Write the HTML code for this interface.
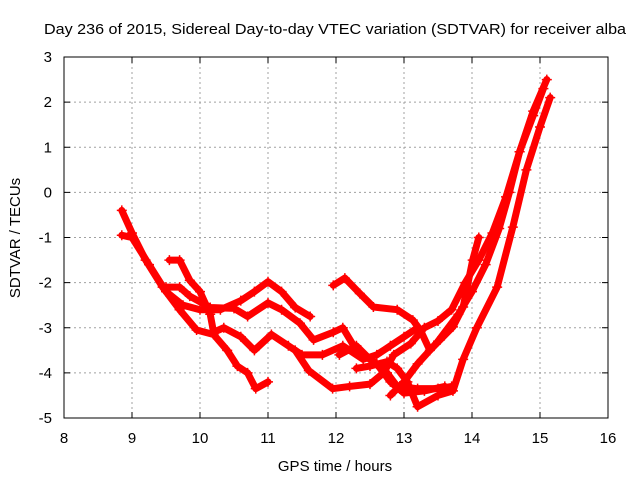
<!DOCTYPE html>
<html><head><meta charset="utf-8"><style>
body{margin:0;background:#fff}
svg{display:block;font-family:"Liberation Sans",sans-serif;font-size:15px}
</style></head><body>
<svg id="chart" width="640" height="480">
<text x="335" y="34" text-anchor="middle" textLength="582" lengthAdjust="spacingAndGlyphs">Day 236 of 2015, Sidereal Day-to-day VTEC variation (SDTVAR) for receiver alba</text>
<text x="335" y="471" text-anchor="middle">GPS time / hours</text>
<text x="0" y="0" transform="translate(20,238) rotate(-90)" text-anchor="middle">SDTVAR / TECUs</text>
<g id="grid"></g><g id="ticks"></g><g id="series"></g>
<rect x="64" y="57" width="544" height="361" fill="none" stroke="#000" stroke-width="1"/>
</svg>
<script>
const xTicks=[8,9,10,11,12,13,14,15,16];
const yTicks=[3,2,1,0,-1,-2,-3,-4,-5];
const track1=[[8.85,-0.4],[9.0,-0.9],[9.2,-1.5],[9.45,-2.1],[9.7,-2.6],[9.95,-3.05],[10.2,-3.15],[10.4,-3.5],[10.55,-3.85],[10.7,-4.0],[10.82,-4.35],[11.0,-4.2]];
const track2=[[8.85,-0.95],[9.0,-1.0],[9.25,-1.6],[9.5,-2.2],[9.75,-2.5],[10.0,-2.6],[10.3,-2.6],[10.6,-2.4],[10.8,-2.2],[11.0,-1.98],[11.2,-2.2],[11.4,-2.55],[11.62,-2.75]];
const track3=[[9.55,-1.5],[9.7,-1.5],[9.85,-1.95],[10.0,-2.2],[10.15,-2.7],[10.2,-3.1],[10.35,-3.0],[10.6,-3.2],[10.8,-3.5],[11.05,-3.15],[11.3,-3.4],[11.5,-3.6],[11.8,-3.6],[12.1,-3.4],[12.4,-3.7],[12.6,-3.6],[12.8,-3.4],[13.0,-3.2],[13.2,-3.0]];
const track4=[[9.5,-2.1],[9.7,-2.1],[9.85,-2.3],[10.15,-2.55],[10.5,-2.57],[10.7,-2.75],[11.0,-2.45],[11.2,-2.6],[11.47,-2.9],[11.67,-3.27],[11.96,-3.1],[12.1,-3.0],[12.3,-3.5],[12.6,-3.8],[12.8,-4.2],[13.0,-4.45],[13.3,-4.4],[13.6,-4.3]];
const track5=[[11.96,-2.06],[12.13,-1.9],[12.35,-2.24],[12.55,-2.54],[12.9,-2.6],[13.13,-2.83],[13.24,-3.05],[13.38,-3.5],[13.53,-3.27],[13.72,-2.98],[13.87,-2.54],[14.01,-1.5],[14.1,-1.0]];
const track6=[[11.4,-3.5],[11.6,-3.95],[11.95,-4.35],[12.2,-4.3],[12.5,-4.25],[12.7,-4.0],[12.85,-3.6],[13.1,-3.35],[13.3,-3.0],[13.5,-2.85],[13.7,-2.6],[13.9,-2.0],[14.1,-1.5],[14.3,-0.9],[14.5,-0.1],[14.7,0.9],[14.9,1.8],[15.1,2.5]];
const track7=[[12.05,-3.6],[12.3,-3.4],[12.5,-3.7],[12.75,-4.0],[12.9,-4.3],[13.2,-4.35],[13.5,-4.35],[13.7,-4.3]];
const track8=[[12.3,-3.9],[12.5,-3.85],[12.75,-3.75],[12.9,-3.9],[13.05,-4.2],[13.2,-4.75],[13.5,-4.5],[13.72,-4.4],[13.87,-3.7],[14.07,-3.0],[14.37,-2.1],[14.6,-0.77],[14.8,0.5],[15.0,1.45],[15.15,2.1]];
const track9=[[12.8,-4.5],[13.0,-4.2],[13.2,-3.8],[13.5,-3.3],[13.8,-2.7],[14.0,-2.2],[14.2,-1.6],[14.4,-0.8],[14.55,0.0],[14.7,0.9],[14.9,1.7],[15.05,2.3]];
const tracks=[track1,track2,track3,track4,track5,track6,track7,track8,track9];

const NS="http://www.w3.org/2000/svg";
const X=v=>64+(v-8)*68;
const Y=v=>57+(3-v)*45.125;
const grid=document.getElementById('grid'),ticks=document.getElementById('ticks'),ser=document.getElementById('series');
function mk(tag,attrs,parent){const e=document.createElementNS(NS,tag);for(const k in attrs)e.setAttribute(k,attrs[k]);parent.appendChild(e);return e;}
xTicks.forEach(t=>{
  const x=X(t);
  if(t>8&&t<16){const g=mk('line',{x1:x,x2:x,y1:57,y2:418,stroke:'#a0a0a0','stroke-dasharray':'2,3'},grid);
  
  }
  mk('line',{x1:x,x2:x,y1:418,y2:412,stroke:'#000'},ticks);
  mk('line',{x1:x,x2:x,y1:57,y2:63,stroke:'#000'},ticks);
  const l=mk('text',{x:x,y:443,'text-anchor':'middle'},ticks);l.textContent=t;
  
  
});
yTicks.forEach(t=>{
  const y=Y(t);
  if(t<3&&t>-5){const g=mk('line',{x1:64,x2:608,y1:y,y2:y,stroke:'#a0a0a0','stroke-dasharray':'2,3'},grid);
  
  }
  mk('line',{x1:64,x2:70,y1:y,y2:y,stroke:'#000'},ticks);
  mk('line',{x1:608,x2:602,y1:y,y2:y,stroke:'#000'},ticks);
  const l=mk('text',{x:52,y:y+5,'text-anchor':'end'},ticks);l.textContent=t;
  
  
});
tracks.forEach((tr,i)=>{
  const p=mk('polyline',{points:tr.map(d=>X(d[0])+','+Y(d[1])).join(' '),fill:'none',stroke:'#ff0000','stroke-width':7,'stroke-linejoin':'round','stroke-linecap':'round'},ser);
  
  
  tr.forEach(d=>{
    const x=X(d[0]),y=Y(d[1]);
    const m=mk('path',{d:`M${x-5},${y}H${x+5}M${x},${y-5}V${y+5}`,stroke:'#ff0000','stroke-width':1.5},ser);
    
    
  });
});
</script>
</body></html>
